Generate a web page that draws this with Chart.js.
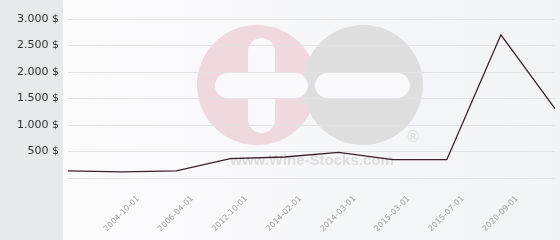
<!DOCTYPE html>
<html>
<head>
<meta charset="utf-8">
<script src="https://cdn.jsdelivr.net/npm/chart.js@4/dist/chart.umd.min.js"></script>
<style>
  html, body { margin: 0; padding: 0; background: #ffffff; }
  #wrap { width: 560px; height: 240px; }
</style>
</head>
<body>
<div id="wrap"><canvas id="priceChart" width="560" height="240"></canvas></div>
<script>
// Data
const dates = ['', '2004-10-01', '2006-04-01', '2012-10-01', '2014-02-01', '2014-03-01', '2015-03-01', '2015-07-01', '2020-09-01', ''];
const prices = [136, 117, 136, 364, 396, 482, 345, 345, 2704, 1310];
const yTicks = [500, 1000, 1500, 2000, 2500, 3000];

const colors = {
  panel: '#e6eaed',
  plotLeft: '#fbfbfc',
  plotRight: '#f2f3f7',
  grid: '#e2e2e6',
  line: '#3d1f2e',
  yText: '#333333',
  xText: '#a0a0a0'
};

// Background panel + watermark, drawn before the grid
const backdrop = {
  id: 'backdrop',
  beforeDraw(chart) {
    const ctx = chart.ctx;
    const w = chart.width, h = chart.height;
    ctx.save();
    const grad = ctx.createLinearGradient(63, 0, w, 0);
    grad.addColorStop(0, colors.plotLeft);
    grad.addColorStop(1, colors.plotRight);
    ctx.fillStyle = grad;
    ctx.fillRect(63, 0, w - 63, h);
    ctx.fillStyle = colors.panel;
    ctx.fillRect(0, 0, 63, h);

    // watermark logo
    ctx.fillStyle = '#efd8de';
    ctx.beginPath();
    ctx.arc(257, 85, 60, 0, Math.PI * 2);
    ctx.fill();
    ctx.fillStyle = '#dededf';
    ctx.beginPath();
    ctx.arc(363, 85, 60, 0, Math.PI * 2);
    ctx.fill();

    ctx.fillStyle = '#f9f9fb';
    roundRect(ctx, 248, 38, 27, 95, 13.5);
    roundRect(ctx, 215, 73, 93, 25, 12.5);
    roundRect(ctx, 315, 73, 95, 25, 12.5);

    ctx.fillStyle = '#dcdcdf';
    ctx.font = 'bold 15px "Liberation Sans", Arial, sans-serif';
    ctx.textAlign = 'center';
    ctx.textBaseline = 'middle';
    ctx.fillText('www.Wine-Stocks.com', 312, 161);
    ctx.font = '15px "DejaVu Sans", sans-serif';
    ctx.fillText('®', 413, 138);
    ctx.restore();
  }
};

function roundRect(ctx, x, y, w, h, r) {
  ctx.beginPath();
  ctx.moveTo(x + r, y);
  ctx.arcTo(x + w, y, x + w, y + h, r);
  ctx.arcTo(x + w, y + h, x, y + h, r);
  ctx.arcTo(x, y + h, x, y, r);
  ctx.arcTo(x, y, x + w, y, r);
  ctx.closePath();
  ctx.fill();
}

new Chart(document.getElementById('priceChart'), {
  type: 'line',
  data: {
    labels: dates,
    datasets: [{
      data: prices,
      borderColor: colors.line,
      borderWidth: 1.3,
      pointRadius: 0,
      tension: 0,
      fill: false
    }]
  },
  options: {
    responsive: false,
    animation: false,
    layout: { padding: { top: 0, right: 5, left: 0, bottom: 0 } },
    plugins: {
      legend: { display: false },
      tooltip: { enabled: false }
    },
    scales: {
      x: {
        offset: false,
        grid: { display: false, drawTicks: false },
        border: { display: false },
        afterFit: (scale) => {
          scale.height = 62;
          scale.paddingLeft = 0;
          scale.paddingRight = 0;
        },
        ticks: {
          autoSkip: false,
          minRotation: 45,
          maxRotation: 45,
          labelOffset: 16,
          padding: 16,
          color: colors.xText,
          font: { family: 'DejaVu Sans', size: 8 }
        }
      },
      y: {
        min: 0,
        max: 3360,
        grid: { color: colors.grid, drawTicks: false },
        border: { display: false },
        afterFit: (scale) => {
          scale.width = 68;
          scale.paddingTop = 0;
          scale.paddingBottom = 0;
        },
        afterBuildTicks: (scale) => {
          scale.ticks = [0].concat(yTicks).map(v => ({ value: v }));
        },
        ticks: {
          padding: 9,
          color: colors.yText,
          font: { family: 'DejaVu Sans', size: 11 },
          callback: (v) => v === 0 ? '' : v.toLocaleString('de-DE') + ' $'
        }
      }
    }
  },
  plugins: [backdrop]
});
</script>
</body>
</html>
